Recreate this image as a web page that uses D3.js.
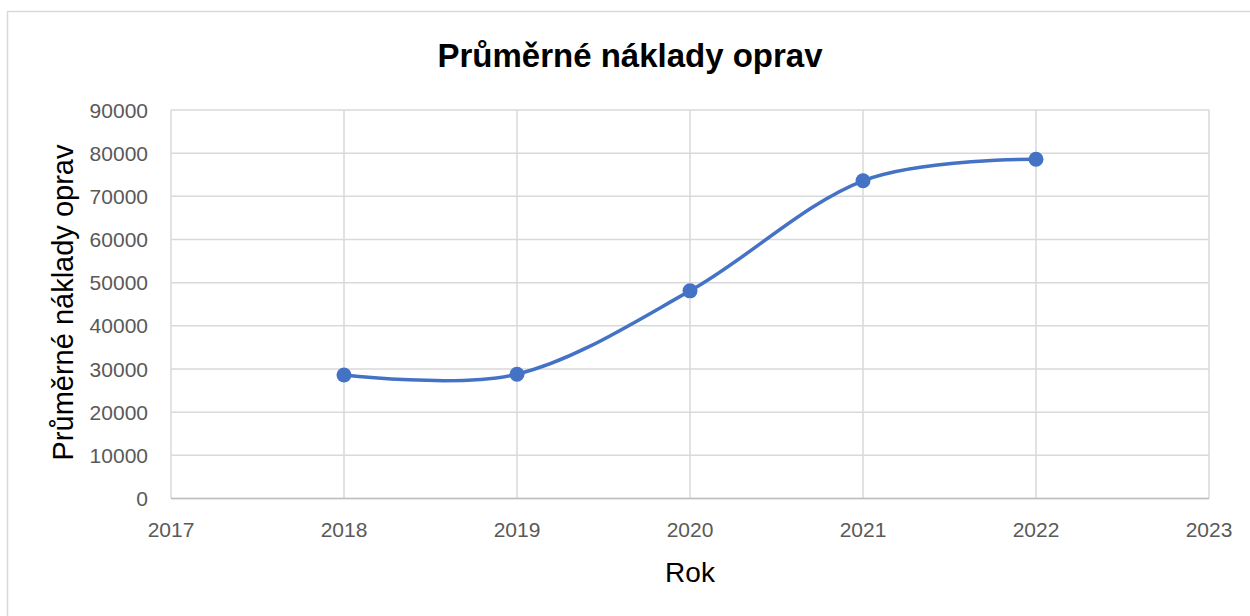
<!DOCTYPE html>
<html>
<head>
<meta charset="utf-8">
<script src="https://cdn.jsdelivr.net/npm/d3@7"></script>
<style>
  body { margin: 0; background: #fff; }
  text { font-family: "Liberation Sans", Arial, sans-serif; }
</style>
</head>
<body>
<script>
// ----------------------------------- DATA --------------------------------------------
var years = [2018, 2019, 2020, 2021, 2022]
var costs = [28600, 28800, 48100, 73600, 78600]
var xTicks = [2017, 2018, 2019, 2020, 2021, 2022, 2023]
var yTicks = [0, 10000, 20000, 30000, 40000, 50000, 60000, 70000, 80000, 90000]

var chartTitle = 'Průměrné náklady oprav'
var xTitle = 'Rok'
var yTitle = 'Průměrné náklady oprav'

// ----------------------------------- SVG and BACKGROUND --------------------------------------------
var width = 1250
var height = 616

var svg = d3.select('body')
			.append('svg')
			.attr('width', width)
			.attr('height', height)

svg.append('rect')
	.attr('x', 7.5)
	.attr('y', 11.5)
	.attr('width', 1260)
	.attr('height', 620)
	.attr('fill', '#fff')
	.attr('stroke', '#d9d9d9')
	.attr('stroke-width', 1.5)

// plot area (don't call it "top", that's window.top)
var plotLeft = 171, plotRight = 1209, plotTop = 110, plotBottom = 498.5

var x = d3.scaleLinear().domain([2017, 2023]).range([plotLeft, plotRight])
var y = d3.scaleLinear().domain([0, 90000]).range([plotBottom, plotTop])

// ----------------------------------- GRID --------------------------------------------
svg.append('g')
	.selectAll('line')
	.data(yTicks)
	.enter()
	.append('line')
	.attr('x1', plotLeft).attr('x2', plotRight)
	.attr('y1', function(d){ return y(d) }).attr('y2', function(d){ return y(d) })
	.attr('stroke', '#d9d9d9')
	.attr('stroke-width', 1.5)

svg.append('g')
	.selectAll('line')
	.data(xTicks)
	.enter()
	.append('line')
	.attr('x1', function(d){ return x(d) }).attr('x2', function(d){ return x(d) })
	.attr('y1', plotTop).attr('y2', plotBottom)
	.attr('stroke', '#d9d9d9')
	.attr('stroke-width', 1.5)

// bottom axis line
svg.append('line')
	.attr('x1', plotLeft).attr('x2', plotRight)
	.attr('y1', plotBottom).attr('y2', plotBottom)
	.attr('stroke', '#bfbfbf')
	.attr('stroke-width', 1.5)

// ----------------------------------- TICK LABELS --------------------------------------------
svg.append('g')
	.selectAll('text')
	.data(yTicks)
	.enter()
	.append('text')
	.attr('x', 148)
	.attr('y', function(d){ return y(d) + 7.5 })
	.attr('text-anchor', 'end')
	.attr('font-size', 21)
	.attr('fill', '#595959')
	.text(function(d){ return d })

svg.append('g')
	.selectAll('text')
	.data(xTicks)
	.enter()
	.append('text')
	.attr('x', function(d){ return x(d) })
	.attr('y', 537)
	.attr('text-anchor', 'middle')
	.attr('font-size', 21)
	.attr('fill', '#595959')
	.text(function(d){ return d })

// ----------------------------------- TITLES --------------------------------------------
svg.append('text')
	.attr('x', 630)
	.attr('y', 67)
	.attr('text-anchor', 'middle')
	.attr('font-size', 33)
	.attr('font-weight', 'bold')
	.attr('fill', '#000')
	.text(chartTitle)

svg.append('text')
	.attr('x', 690)
	.attr('y', 582)
	.attr('text-anchor', 'middle')
	.attr('font-size', 28)
	.attr('fill', '#000')
	.text(xTitle)

svg.append('text')
	.attr('transform', 'translate(73,302.5) rotate(-90)')
	.attr('text-anchor', 'middle')
	.attr('font-size', 29)
	.attr('fill', '#000')
	.text(yTitle)

// ----------------------------------- LINE + MARKERS --------------------------------------------
var points = years.map(function(d, i){ return [d, costs[i]] })

var line = d3.line()
	.x(function(d){ return x(d[0]) })
	.y(function(d){ return y(d[1]) })
	.curve(d3.curveCardinal.tension(0))

svg.append('path')
	.datum(points)
	.attr('d', line)
	.attr('fill', 'none')
	.attr('stroke', '#4472c4')
	.attr('stroke-width', 3.5)
	.attr('stroke-linecap', 'round')

svg.append('g')
	.selectAll('circle')
	.data(points)
	.enter()
	.append('circle')
	.attr('cx', function(d){ return x(d[0]) })
	.attr('cy', function(d){ return y(d[1]) })
	.attr('r', 7.5)
	.attr('fill', '#4472c4')
</script>
</body>
</html>
